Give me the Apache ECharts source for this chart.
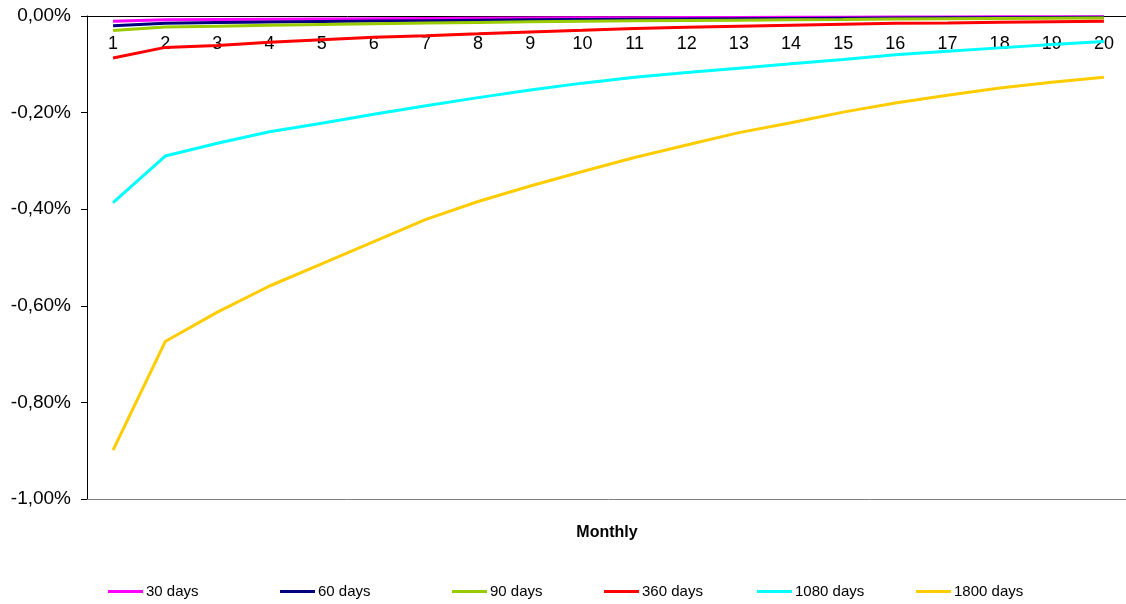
<!DOCTYPE html>
<html>
<head>
<meta charset="utf-8">
<title>Monthly</title>
<script src="https://cdn.jsdelivr.net/npm/echarts@6/dist/echarts.min.js"></script>
<style>
  html, body { margin: 0; padding: 0; background: #ffffff; overflow: hidden; }
  #chart { width: 1130px; height: 604px; }
</style>
</head>
<body>
<div id="chart"></div>
<script>
// Month index along the category axis
const months = ['1','2','3','4','5','6','7','8','9','10','11','12','13','14','15','16','17','18','19','20'];

// Series values in percent
const days30 = [-0.011,-0.008,-0.0073,-0.0066,-0.006,-0.0055,-0.005,-0.0046,-0.0042,-0.0038,-0.0035,-0.0032,-0.003,-0.0027,-0.0025,-0.0022,-0.002,-0.0018,-0.0016,-0.0015];
const days60 = [-0.020,-0.015,-0.0137,-0.0124,-0.0115,-0.0105,-0.0096,-0.0087,-0.0079,-0.0072,-0.0066,-0.006,-0.0056,-0.0051,-0.0046,-0.0041,-0.0038,-0.0034,-0.003,-0.0027];
const days90 = [-0.030,-0.023,-0.021,-0.019,-0.0176,-0.016,-0.0147,-0.0134,-0.0121,-0.011,-0.010,-0.0093,-0.0086,-0.0078,-0.0071,-0.0063,-0.0058,-0.0052,-0.0047,-0.0042];
const days360 = [-0.087,-0.065,-0.061,-0.0545,-0.049,-0.044,-0.0407,-0.037,-0.033,-0.0297,-0.026,-0.0235,-0.021,-0.019,-0.017,-0.015,-0.0145,-0.013,-0.012,-0.011];
const days1080 = [-0.3865,-0.290,-0.2636,-0.2395,-0.222,-0.2035,-0.1857,-0.169,-0.153,-0.139,-0.127,-0.117,-0.108,-0.099,-0.090,-0.080,-0.073,-0.066,-0.059,-0.053];
const days1800 = [-0.899,-0.674,-0.613,-0.559,-0.513,-0.467,-0.421,-0.384,-0.352,-0.322,-0.293,-0.267,-0.2415,-0.221,-0.199,-0.180,-0.164,-0.149,-0.137,-0.127];

// Value axis ticks
const yMin = -1.0;
const yMax = 0;
const yStep = 0.2;

const seriesNames = ['30 days','60 days','90 days','360 days','1080 days','1800 days'];
const seriesData = [days30, days60, days90, days360, days1080, days1800];
const seriesColors = ['#FF00FF','#000080','#99CC00','#FF0000','#00FFFF','#FFCC00'];
const legendLeft = [108, 280, 452, 604, 757, 916];

const font = 'Arial, "Liberation Sans", sans-serif';

const chart = echarts.init(document.getElementById('chart'), null, { renderer: 'canvas' });

const fmtPct = v => v.toFixed(2).replace('.', ',') + '%';

chart.setOption({
  animation: false,
  backgroundColor: '#ffffff',
  grid: { left: 87, top: 16, bottom: 105, right: 0 },
  xAxis: [{
    type: 'category',
    data: months,
    position: 'top',
    boundaryGap: true,
    axisLine: { onZero: false, lineStyle: { color: '#000000', width: 1 } },
    axisTick: { inside: true, length: 4, lineStyle: { color: '#000000' } },
    axisLabel: { inside: true, margin: 19, color: '#000000', fontSize: 18, fontFamily: font, interval: 0 },
    splitLine: { show: false }
  }, {
    // plain frame line along the bottom of the plot area
    type: 'category',
    data: months,
    position: 'bottom',
    axisLine: { onZero: false, lineStyle: { color: '#808080', width: 1 } },
    axisTick: { show: false },
    axisLabel: { show: false },
    splitLine: { show: false }
  }],
  yAxis: {
    type: 'value',
    min: yMin, max: yMax, interval: yStep,
    axisLine: { show: true, lineStyle: { color: '#000000', width: 1 } },
    axisTick: { show: true, length: 6, lineStyle: { color: '#000000' } },
    axisLabel: { margin: 16, color: '#000000', fontSize: 19, fontFamily: font, formatter: fmtPct },
    splitLine: { show: false }
  },
  legend: seriesNames.map((name, i) => ({
    data: [name],
    left: legendLeft[i],
    top: 584,
    padding: 0,
    icon: 'rect',
    itemWidth: 35,
    itemHeight: 3,
    itemGap: 0,
    textStyle: { color: '#000000', fontSize: 15, fontFamily: font, padding: [0, 0, 0, -2] }
  })),
  graphic: [{
    type: 'text',
    x: 607, y: 533,
    style: {
      text: 'Monthly', fill: '#000000',
      font: 'bold 16px ' + font,
      textAlign: 'center', textVerticalAlign: 'middle'
    }
  }],
  series: seriesNames.map((name, i) => ({
    name: name,
    type: 'line',
    data: seriesData[i],
    symbol: 'none',
    smooth: false,
    color: seriesColors[i],
    lineStyle: { width: 3, color: seriesColors[i] }
  }))
});
</script>
</body>
</html>
